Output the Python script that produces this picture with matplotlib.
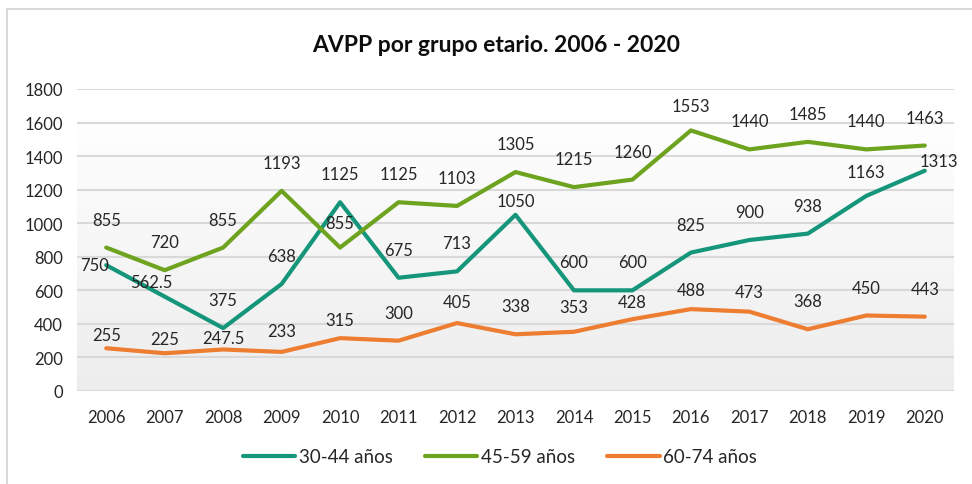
import numpy as np
import matplotlib
matplotlib.use("Agg")
import matplotlib.pyplot as plt
from matplotlib.patches import Rectangle
from matplotlib.colors import LinearSegmentedColormap

plt.rcParams["font.family"] = ["Lato", "DejaVu Sans"]

years = list(range(2006, 2021))
serie_30_44 = [750, 562.5, 375, 638, 1125, 675, 713, 1050, 600, 600, 825, 900, 938, 1163, 1313]
serie_45_59 = [855, 720, 855, 1193, 855, 1125, 1103, 1305, 1215, 1260, 1553, 1440, 1485, 1440, 1463]
serie_60_74 = [255, 225, 247.5, 233, 315, 300, 405, 338, 353, 428, 488, 473, 368, 450, 443]
labels = ["30-44 años", "45-59 años", "60-74 años"]
title = "AVPP por grupo etario. 2006 - 2020"

colors = ["#15967A", "#6EA31F", "#ED7D31"]

# label offsets in pixels (dx, dy) -- Excel labels were nudged by hand
offs_30 = [(-12, 0), (-13, 15)] + [(0, 28)] * 5 + [(0, 14)] + [(0, 28)] * 5 + [(0, 24), (14, 10)]
offs_45 = [(0, 28)] * 4 + [(0, 25)] + [(0, 28)] * 5 + [(0, 24)] + [(0, 28)] * 4
offs_60 = [(0, 13), (0, 14), (0, 11), (0, 21), (0, 18), (0, 28), (0, 21), (0, 28), (0, 25),
           (0, 17), (0, 19), (0, 20), (0, 28), (0, 28), (0, 28)]

W, H = 972, 485
fig = plt.figure(figsize=(W / 100, H / 100), dpi=100)
fig.patch.set_facecolor("white")

# outer chart border
fig.add_artist(Rectangle((7 / W, -0.1), 1.2, 1 - 10 / H + 0.1, transform=fig.transFigure,
                         fill=False, edgecolor="#D9D9D9", linewidth=1.5))

ax = fig.add_axes([77 / W, 1 - 392 / H, (954 - 77) / W, (392 - 90) / H])
ax.set_xlim(2005.5, 2020.5)
ax.set_ylim(0, 1800)

# plot area gradient (white top -> light grey bottom)
cmap = LinearSegmentedColormap.from_list("bg", ["#EDEDED", "#FFFFFF"])
grad = np.linspace(0, 1, 256).reshape(-1, 1)
ax.imshow(grad, extent=[2005.5, 2020.5, 0, 1650], origin="lower", aspect="auto",
          cmap=cmap, zorder=0)

ax.set_yticks(range(0, 1801, 200))
ax.set_xticks(years)
ax.grid(axis="y", color="#D9D9D9", linewidth=1.5, zorder=1)
for s in ax.spines.values():
    s.set_visible(False)
ax.tick_params(length=0, labelsize=12, colors="#262626")
ax.tick_params(axis="y", pad=10)
ax.tick_params(axis="x", pad=13)

for vals, col, lab, offs in zip([serie_30_44, serie_45_59, serie_60_74], colors, labels,
                                 [offs_30, offs_45, offs_60]):
    ax.plot(years, vals, color=col, linewidth=3, label=lab, zorder=3,
            solid_capstyle="round", solid_joinstyle="round")
    for x, v, (dx, dy) in zip(years, vals, offs):
        txt = f"{v:g}"
        ax.annotate(txt, (x, v), xytext=(dx * 0.72, dy * 0.72), textcoords="offset points",
                    ha="center", va="center", fontsize=12, color="#262626", zorder=4)

fig.text(496 / W, 1 - 45 / H, title, ha="center", va="center", fontsize=16.5,
         fontweight="bold", color="#0D0D0D")

fig.legend(loc="center", bbox_to_anchor=(500 / W, 1 - 458 / H), ncol=3, frameon=False,
           fontsize=13.5, handlelength=2.8, handletextpad=0.2, columnspacing=1.7,
           labelcolor="#262626")

fig.savefig("out.png", dpi=100, facecolor="white")
